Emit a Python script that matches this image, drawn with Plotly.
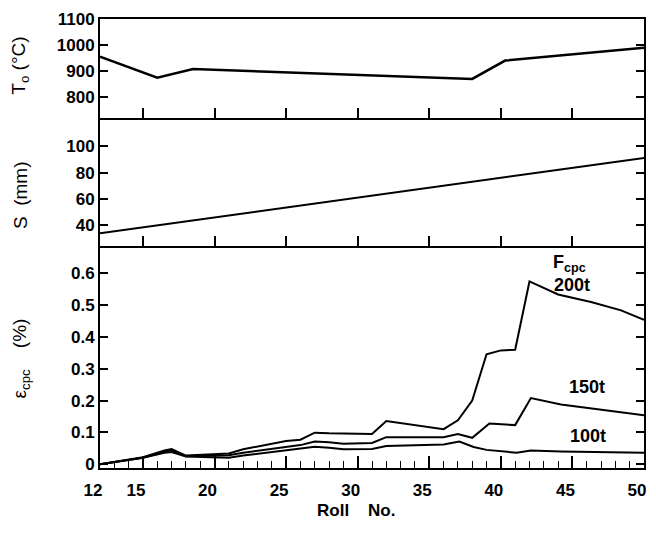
import plotly.graph_objects as go

# ---- data ----
t_roll = [12, 16, 18.5, 38, 40.3, 50]
t_val = [955, 874, 907, 869, 940, 990]

s_roll = [12, 50]
s_val = [34, 91]

e200_roll = [12, 15, 16.5, 17, 18, 21, 22, 24, 25, 26, 27, 28, 31, 32, 36, 37, 38, 39, 40, 41, 42, 44, 46.3, 48.4, 50]
e200_val = [0, 0.022, 0.043, 0.048, 0.027, 0.034, 0.047, 0.064, 0.073, 0.077, 0.099, 0.097, 0.095, 0.136, 0.110,
            0.138, 0.200, 0.346, 0.358, 0.360, 0.575, 0.534, 0.510, 0.484, 0.454]

e150_roll = [12, 15, 16.5, 17, 18, 21, 22, 25, 26, 27, 28, 29, 31, 32, 36, 37, 38, 39.2, 41, 42.1, 44.2, 50]
e150_val = [0, 0.02, 0.040, 0.043, 0.025, 0.028, 0.036, 0.055, 0.060, 0.071, 0.069, 0.064, 0.067, 0.085, 0.085,
            0.095, 0.083, 0.128, 0.123, 0.208, 0.188, 0.154]

e100_roll = [12, 15, 16.5, 17, 18, 21, 22, 25, 26, 27, 28, 29, 31, 32, 36, 37.1, 38.1, 39, 41.1, 42.1, 44.2, 50]
e100_val = [0, 0.02, 0.036, 0.038, 0.024, 0.020, 0.027, 0.045, 0.050, 0.055, 0.052, 0.047, 0.048, 0.057, 0.062,
            0.071, 0.054, 0.045, 0.036, 0.043, 0.040, 0.036]

x_ticks = [12, 15, 20, 25, 30, 35, 40, 45, 50]
t_ticks = [800, 900, 1000, 1100]
s_ticks = [40, 60, 80, 100]
e_ticks = [0, 0.1, 0.2, 0.3, 0.4, 0.5, 0.6]
e_ticktext = ["0", "0.1", "0.2", "0.3", "0.4", "0.5", "0.6"]

FONT = "Liberation Sans, Arial, Helvetica, sans-serif"
tickfont = dict(family=FONT, size=17, color="black", weight="bold")

fig = go.Figure()
line = dict(color="black", width=2)
fig.add_trace(go.Scatter(x=t_roll, y=t_val, mode="lines", line=dict(color="black", width=2.5), xaxis="x", yaxis="y"))
fig.add_trace(go.Scatter(x=s_roll, y=s_val, mode="lines", line=line, xaxis="x2", yaxis="y2"))
fig.add_trace(go.Scatter(x=e200_roll, y=e200_val, mode="lines", line=line, xaxis="x3", yaxis="y3"))
fig.add_trace(go.Scatter(x=e150_roll, y=e150_val, mode="lines", line=line, xaxis="x3", yaxis="y3"))
fig.add_trace(go.Scatter(x=e100_roll, y=e100_val, mode="lines", line=line, xaxis="x3", yaxis="y3"))

common_x = dict(range=[12, 50], showgrid=False, zeroline=False, showline=True, linecolor="black", linewidth=2)
upper_x = dict(common_x, tickvals=[15, 20, 25, 30, 35, 40, 45], ticks="inside", ticklen=10, tickwidth=1.5,
               tickcolor="black", showticklabels=False)
common_y = dict(showgrid=False, zeroline=False, showline=True, linecolor="black", linewidth=2, mirror="ticks",
                ticks="inside", ticklen=8, tickwidth=1.5, tickcolor="black", tickfont=tickfont,
                ticklabeloverflow="allow")

d3 = [0, 0.4934]
d2 = [0.4934, 0.7785]
d1 = [0.7785, 1]

fig.update_layout(
    width=640, height=524,
    margin=dict(l=92, r=2, t=4, b=64),
    paper_bgcolor="white", plot_bgcolor="white",
    showlegend=False,
    xaxis=dict(upper_x, anchor="y", mirror=True),
    xaxis2=dict(upper_x, anchor="y2", mirror=False),
    xaxis3=dict(common_x, anchor="y3", mirror=False, tickvals=x_ticks, ticks="inside", ticklen=12, tickwidth=1.5,
                tickcolor="black", tickfont=tickfont, ticklabeloverflow="allow", ticklabelstandoff=6,
                ticklabelshift=-7,
                minor=dict(dtick=1, ticks="inside", ticklen=7, tickwidth=1, tickcolor="black")),
    yaxis=dict(common_y, domain=d1, range=[716, 1101], tickvals=t_ticks),
    yaxis2=dict(common_y, domain=d2, range=[24, 121], tickvals=s_ticks),
    yaxis3=dict(common_y, domain=d3, range=[-0.012, 0.685], tickvals=e_ticks, ticktext=e_ticktext),
)

title_font = dict(family=FONT, size=19, color="black")
ann = [
    dict(text="T<sub>o</sub> (°C)", x=-0.146, y=0.895, textangle=-90),
    dict(text="S  (mm)", x=-0.146, y=0.607, textangle=-90),
    dict(text="ε<sub>cpc</sub>    (%)", x=-0.146, y=0.243, textangle=-90),
]
for a in ann:
    fig.add_annotation(xref="paper", yref="paper", showarrow=False, font=title_font,
                       xanchor="center", yanchor="middle", **a)

lab = dict(family=FONT, size=18, color="black", weight="bold")
fig.add_annotation(xref="paper", yref="paper", x=0.47, y=-0.095, text="Roll    No.", showarrow=False,
                   font=dict(family=FONT, size=17, color="black", weight="bold"),
                   xanchor="center", yanchor="middle")

curve_labels = [
    ("F<sub>cpc</sub>", 44.8, 0.632),
    ("200t", 45.0, 0.565),
    ("150t", 46.05, 0.243),
    ("100t", 46.1, 0.088),
]
for txt, xx, yy in curve_labels:
    fig.add_annotation(xref="x3", yref="y3", x=xx, y=yy, text=txt, showarrow=False, font=lab,
                       xanchor="center", yanchor="middle")

fig.write_html("out.html")
